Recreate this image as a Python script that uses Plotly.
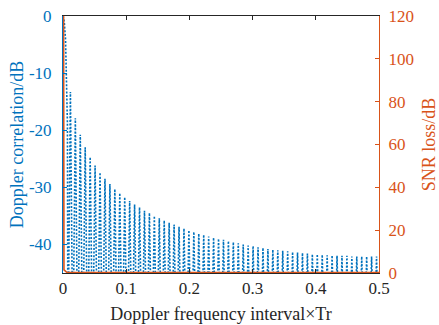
import plotly.graph_objects as go

# ---------------- data ----------------
# Doppler correlation (dB): main lobe samples, then the peak of each side lobe
main_lobe_freq = [0.0, 0.002, 0.004, 0.006, 0.007]
main_lobe_db = [0.0, -1.0, -4.1, -11.2, -18.8]
lobes_per_unit = 128          # lobe spacing (1/128 in x)
null_db = -60.0               # nulls fall below the bottom of the axis
sidelobe_peak_db = [
    -13.3, -17.9, -20.8, -23.0, -24.7, -26.2, -27.4, -28.5, -29.4, -30.3,
    -31.0, -31.7, -32.4, -33.0, -33.5, -34.1, -34.5, -35.0, -35.4, -35.8,
    -36.2, -36.5, -36.9, -37.2, -37.5, -37.8, -38.1, -38.3, -38.6, -38.8,
    -39.0, -39.2, -39.4, -39.6, -39.8, -40.0, -40.2, -40.3, -40.5, -40.6,
    -40.8, -40.9, -41.0, -41.1, -41.2, -41.3, -41.4, -41.5, -41.6, -41.7,
    -41.7, -41.8, -41.9, -41.9, -42.0, -42.0, -42.0, -42.1, -42.1, -42.1,
    -42.1, -42.1, -42.1,
]

# SNR loss (dB)
snr_freq = [0.0, 0.0015, 0.0065, 0.5]
snr_loss_db = [300.0, 1.5, 0.2, 0.2]

x_ticks = [0, 0.1, 0.2, 0.3, 0.4, 0.5]
x_tick_labels = ["0", "0.1", "0.2", "0.3", "0.4", "0.5"]
y_left_ticks = [0, -10, -20, -30, -40]
y_left_tick_labels = ["0", "-10", "-20", "-30", "-40"]
y_right_ticks = [0, 20, 40, 60, 80, 100, 120]
y_right_tick_labels = ["0", "20", "40", "60", "80", "100", "120"]

# ---------------- build the Doppler correlation trace ----------------
dop_x = list(main_lobe_freq)
dop_y = list(main_lobe_db)
dop_x.append(1 / lobes_per_unit)
dop_y.append(null_db)
for k, peak in enumerate(sidelobe_peak_db, start=1):
    dop_x.append((k + 0.5) / lobes_per_unit)
    dop_y.append(peak)
    dop_x.append((k + 1) / lobes_per_unit)
    dop_y.append(null_db)

BLUE = "#0072BD"
ORANGE = "#D95319"
DARK = "#262626"
FONT = "Liberation Serif"
TICK_SIZE = 17
TITLE_SIZE = 18

fig = go.Figure()
fig.add_trace(go.Scatter(
    x=dop_x, y=dop_y, mode="lines", yaxis="y",
    line=dict(color=BLUE, width=1.6, dash="2px,1.6px"),
    showlegend=False,
))
fig.add_trace(go.Scatter(
    x=snr_freq, y=snr_loss_db, mode="lines", yaxis="y2",
    line=dict(color=ORANGE, width=1.6),
    showlegend=False,
))

fig.update_layout(
    width=439, height=325,
    margin=dict(l=63, r=60, t=16, b=52, pad=0, autoexpand=False),
    paper_bgcolor="white", plot_bgcolor="white",
    font=dict(family=FONT, size=TICK_SIZE, color=DARK),
    xaxis=dict(
        range=[0, 0.5], tickvals=x_ticks, ticktext=x_tick_labels,
        ticks="inside", ticklen=4, tickwidth=1, tickcolor=DARK,
        showline=True, linecolor=DARK, linewidth=1, mirror="ticks",
        showgrid=False, zeroline=False, ticklabelstandoff=0, automargin=False,
        tickfont=dict(family=FONT, size=TICK_SIZE, color=DARK),
        title=dict(text="Doppler frequency interval×Tr",
                   font=dict(family=FONT, size=TITLE_SIZE, color=DARK), standoff=9),
    ),
    yaxis=dict(
        range=[-45, 0], tickvals=y_left_ticks, ticktext=y_left_tick_labels,
        ticks="inside", ticklen=4, tickwidth=1, tickcolor=BLUE,
        showline=True, linecolor=BLUE, linewidth=1, automargin=False,
        showgrid=False, zeroline=False, ticklabelstandoff=7,
        tickfont=dict(family=FONT, size=TICK_SIZE, color=BLUE),
        title=dict(text="Doppler correlation/dB",
                   font=dict(family=FONT, size=TITLE_SIZE, color=BLUE), standoff=0),
    ),
    yaxis2=dict(
        range=[0, 120], tickvals=y_right_ticks, ticktext=y_right_tick_labels,
        overlaying="y", side="right", anchor="x",
        ticks="inside", ticklen=4, tickwidth=1, tickcolor=ORANGE,
        showline=True, linecolor=ORANGE, linewidth=1, automargin=False,
        showgrid=False, zeroline=False, ticklabelstandoff=5,
        tickfont=dict(family=FONT, size=TICK_SIZE, color=ORANGE),
        title=dict(text="SNR loss/dB",
                   font=dict(family=FONT, size=TITLE_SIZE, color=ORANGE), standoff=10),
    ),
)

fig.write_html("out.html")
